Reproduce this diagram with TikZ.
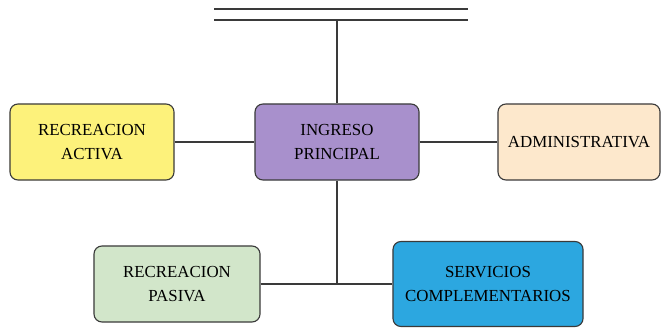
\documentclass[tikz,border=0pt]{standalone}
\usepackage{fontspec}
\setmainfont{Liberation Serif}
\usetikzlibrary{calc, positioning}

\definecolor{activa}{HTML}{FDF27B}
\definecolor{ingreso}{HTML}{A890CC}
\definecolor{admin}{HTML}{FDE8CC}
\definecolor{pasiva}{HTML}{D2E6CA}
\definecolor{servicios}{HTML}{2CA7E0}
\definecolor{linea}{HTML}{3A3A3A}

\begin{document}
\begin{tikzpicture}[
        x=0.025cm,
        y=-0.025cm,
        area/.style={
            draw=linea,
            line width=0.8pt,
            rounded corners=0.2cm,
            align=center,
            text=black,
            font=\rmfamily\fontsize{12}{17.5}\selectfont,
            minimum width=4.1cm,
            minimum height=1.9cm,
        },
        eje/.style={draw=linea, line width=1.8pt},
        enlace/.style={draw=linea, line width=1pt},
    ]

    % Lienzo
    \useasboundingbox (0,0) rectangle (662,328);

    % Calle de acceso
    \coordinate (calleA) at (214,9);
    \coordinate (calleB) at (468,9);
    \coordinate (calleC) at (214,20);
    \coordinate (calleD) at (468,20);
    \draw[eje, line width=1.4pt] (calleA) -- (calleB);
    \draw[eje, line width=1.4pt] (calleC) -- (calleD);

    % Zonas
    \node[area, fill=ingreso] (ingreso) at (337,142) {INGRESO\\PRINCIPAL};
    \node[area, fill=activa] (activa) at (92,142) {RECREACION\\ACTIVA};
    \node[area, fill=admin, minimum width=4.05cm] (admin) at (579,142) {ADMINISTRATIVA};
    \node[area, fill=pasiva, minimum width=4.15cm] (pasiva) at (177,284) {RECREACION\\PASIVA};
    \node[area, fill=servicios, minimum width=4.75cm, minimum height=2.125cm]
        (servicios) at (488,284) {SERVICIOS\\COMPLEMENTARIOS};

    \coordinate (acceso) at (ingreso.north |- calleC);
    \coordinate (cruce) at (ingreso.south |- pasiva.east);

    % Conexiones
    \draw[eje] (acceso) -- (ingreso.north);
    \draw[enlace] (activa.east) -- (ingreso.west);
    \draw[enlace] (ingreso.east) -- (admin.west);
    \draw[eje] (ingreso.south) -- (cruce);
    \draw[enlace] (pasiva.east) -- (servicios.west);

\end{tikzpicture}
\end{document}
